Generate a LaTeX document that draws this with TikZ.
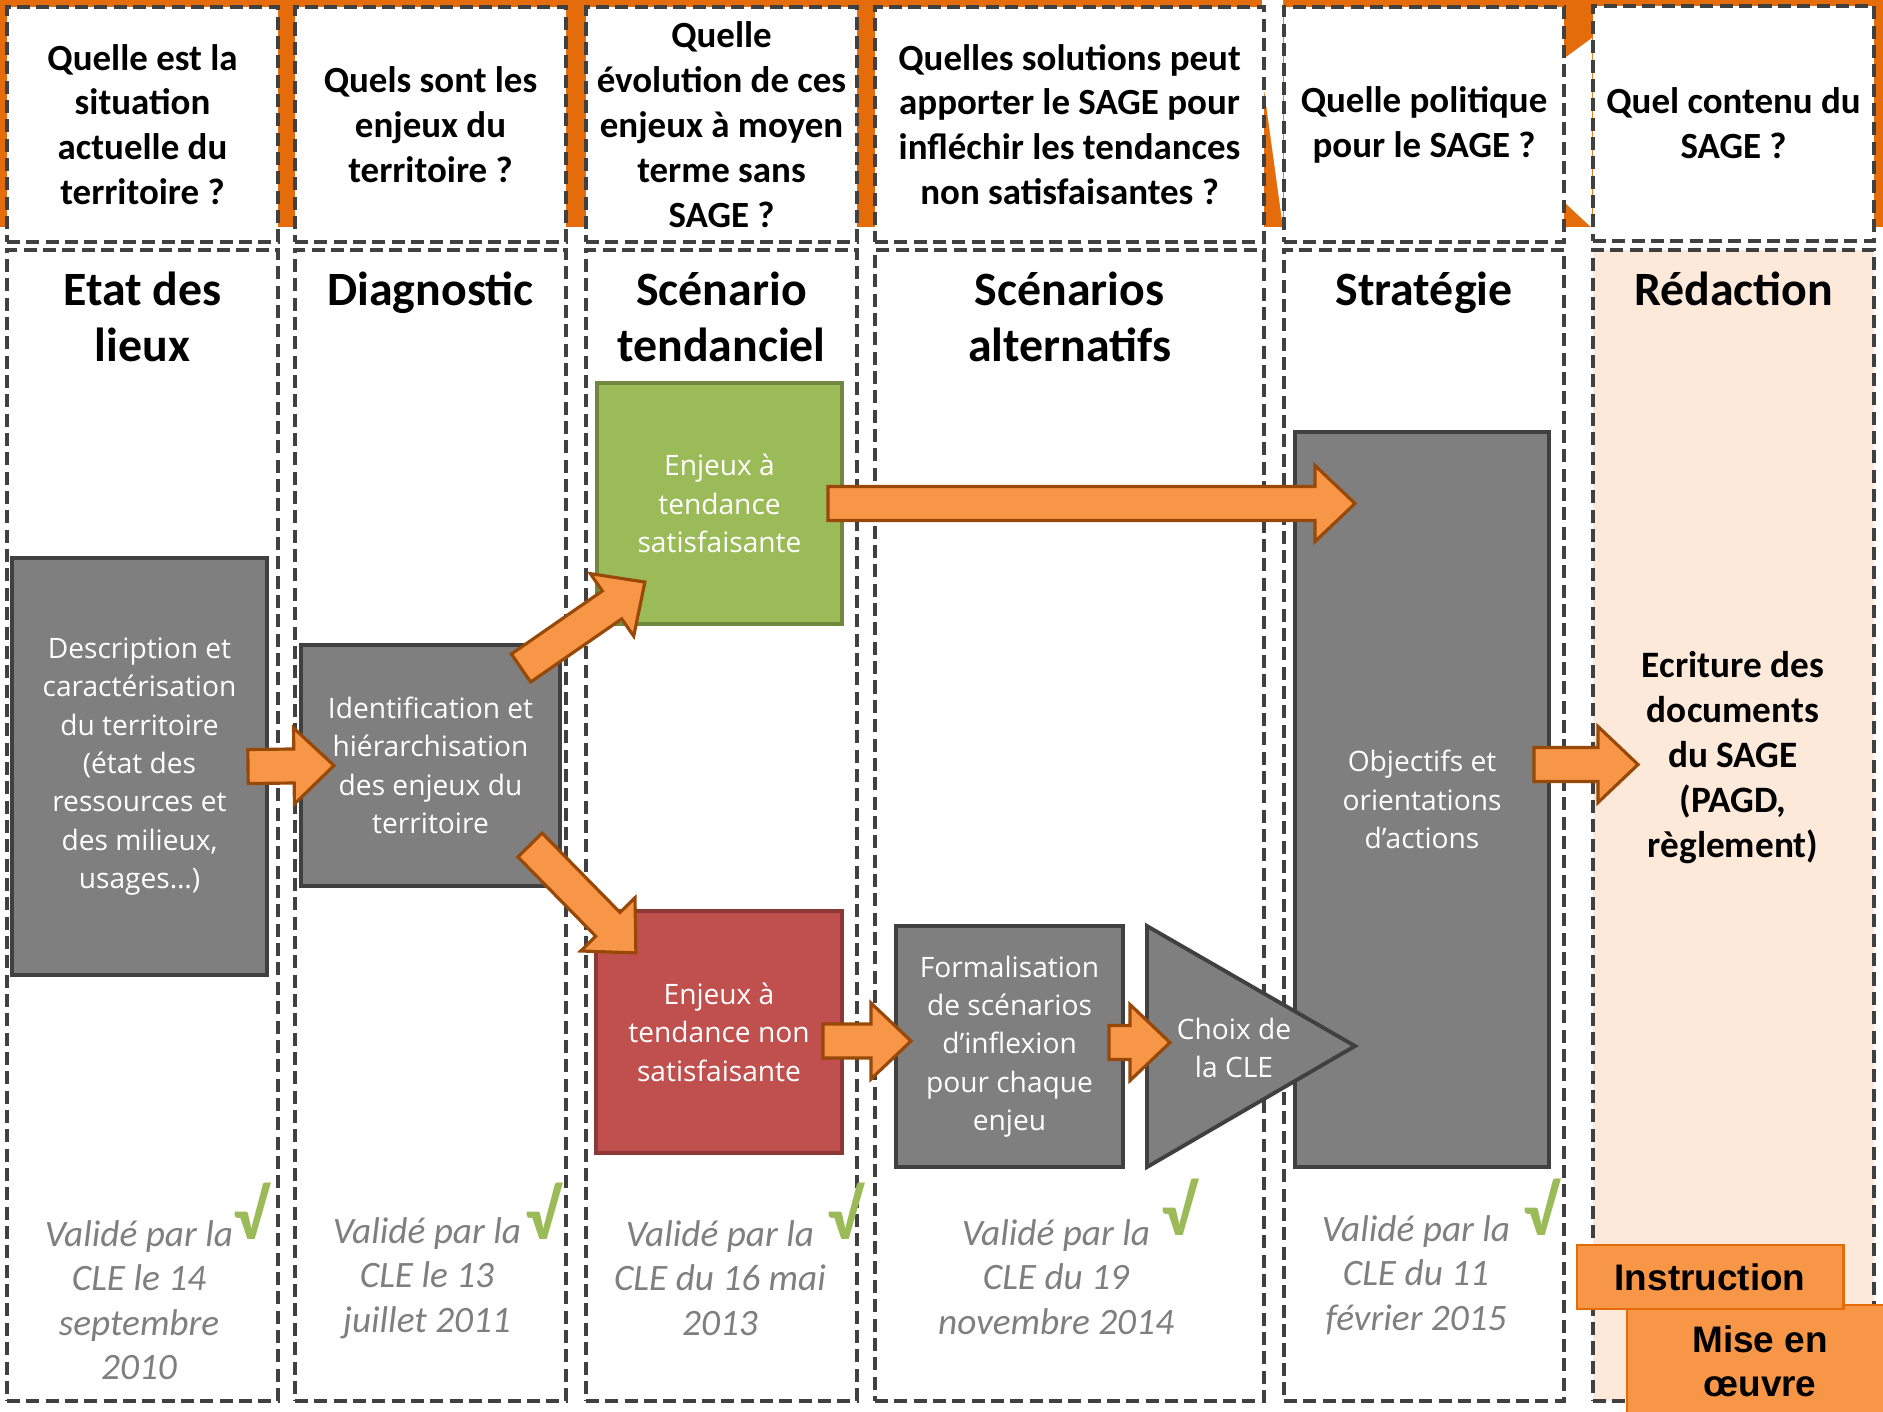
\documentclass[tikz,border=0pt]{standalone}
\usepackage{fontspec}
\setmainfont{Carlito}
\newfontfamily\boxfont{Open Sans}
\newfontfamily\arialfont{Liberation Sans}
\usetikzlibrary{positioning,calc}

\definecolor{dashgray}{HTML}{404040}
\definecolor{boxgray}{HTML}{7F7F7F}
\definecolor{bandorange}{HTML}{E46C0A}
\definecolor{arrorange}{HTML}{F79646}
\definecolor{arrbrown}{HTML}{984807}
\definecolor{okgreen}{HTML}{9BBB59}
\definecolor{okgreendark}{HTML}{71893F}
\definecolor{badred}{HTML}{C0504D}
\definecolor{badreddark}{HTML}{8C3836}
\definecolor{peach}{HTML}{FDE9D9}
\definecolor{phaseline}{HTML}{E36C09}

\newcommand\qfont{\fontsize{10.5}{12.75}\selectfont\bfseries}
\newcommand\titlefont{\fontsize{13.6}{16}\selectfont\bfseries}
\newcommand\graytext{\boxfont\fontsize{8}{10.9}\selectfont}
\newcommand\validfont{\fontsize{10.6}{12.6}\selectfont\itshape}

% fleche epaisse d'un point a un autre
\newcommand\fatarrow[2]{%
  \draw[fat arrow] let \p1=(#1), \p2=(#2),
      \n1={atan2(\y2-\y1,\x2-\x1)}, \n2={veclen(\x2-\x1,\y2-\y1)} in
    [shift={(\p1)},rotate=\n1]
    (0cm,-0.17cm) -- ({\n2-0.4cm},-0.17cm) -- ({\n2-0.4cm},-0.38cm)
    -- ({\n2+0cm},0cm) -- ({\n2-0.4cm},0.38cm) -- ({\n2-0.4cm},0.17cm)
    -- (0cm,0.17cm) -- cycle;}

\begin{document}
\begin{tikzpicture}[x=0.01cm,y=-0.01cm,
  dashbox/.style={draw=dashgray,line width=1.1pt,dash pattern=on 3.7pt off 1.8pt,
    inner sep=0pt,anchor=north west},
  question/.style={dashbox,fill=white,minimum height=2.35cm,align=center,font=\qfont},
  column/.style={dashbox,minimum height=11.5cm},
  title/.style={anchor=north,align=center,font=\titlefont,inner sep=0pt},
  gray box/.style={draw=dashgray,line width=1.1pt,fill=boxgray,text=white,
    align=center,font=\graytext,inner sep=0pt},
  valid/.style={align=center,font=\validfont,text=boxgray,inner sep=0pt},
  check/.style={font=\fontsize{20}{20}\selectfont\bfseries,text=okgreen,inner sep=0pt},
  phase/.style={fill=arrorange,draw=phaseline,line width=0.8pt,align=center,
    font=\arialfont\bfseries\fontsize{10.5}{12.6}\selectfont,inner sep=0pt},
  fat arrow/.style={fill=arrorange,draw=arrbrown,line width=0.9pt}]

  \useasboundingbox (0,0) rectangle (1883,1411);

  % bandeau orange
  \fill[bandorange] (0,0) rectangle (1883,227);
  \fill[white] (1262,-1) -- (1283,-1) -- (1283,228) -- (1262,75) -- cycle;
  \fill[white] (1562,60) -- (1592,38) -- (1592,228) -- (1562,200) -- cycle;

  \node[question,minimum width=2.71cm] (q1) at (5,5) {Quelle est la\\situation\\actuelle du\\territoire ?};
  \node[question,minimum width=2.71cm] (q2) at (293,5) {Quels sont les\\enjeux du\\territoire ?};
  \node[question,minimum width=2.71cm] (q3) at (584,5) {Quelle\\évolution de ces\\enjeux à moyen\\terme sans\\SAGE ?};
  \node[question,minimum width=3.89cm] (q4) at (873,5) {Quelles solutions peut\\apporter le SAGE pour\\infléchir les tendances\\non satisfaisantes ?};
  \node[question,minimum width=2.80cm] (q5) at (1282,5) {Quelle politique\\pour le SAGE ?};
  \node[question,minimum width=2.81cm] (q6) at (1591,4) {Quel contenu du\\SAGE ?};

  \node[column,minimum width=2.71cm] (c1) at (5,248) {};
  \node[column,minimum width=2.71cm] (c2) at (293,248) {};
  \node[column,minimum width=2.71cm] (c3) at (584,248) {};
  \node[column,minimum width=3.89cm] (c4) at (873,248) {};
  \node[column,minimum width=2.80cm] (c5) at (1282,248) {};
  \node[column,fill=peach,minimum width=2.81cm] (c6) at (1591,248) {};

  \node[title] (t1) at ($(c1.north)+(0,23)$) {Etat des\\lieux};
  \node[title] (t2) at ($(c2.north)+(0,23)$) {Diagnostic};
  \node[title] (t3) at ($(c3.north)+(0,23)$) {Scénario\\tendanciel};
  \node[title] (t4) at ($(c4.north)+(0,23)$) {Scénarios\\alternatifs};
  \node[title] (t5) at ($(c5.north)+(0,23)$) {Stratégie};
  \node[title] (t6) at ($(c6.north)+(0,23)$) {Rédaction};

  \node[gray box,minimum width=2.55cm,minimum height=4.17cm] (desc) at (139.5,766.5)
    {Description et\\caractérisation\\du territoire\\(état des\\ressources et\\des milieux,\\usages…)};
  \node[gray box,minimum width=2.59cm,minimum height=2.41cm] (ident) at (430.5,765.5)
    {Identification et\\hiérarchisation\\des enjeux du\\territoire};
  \node[gray box,fill=okgreen,draw=okgreendark,minimum width=2.45cm,minimum height=2.41cm] (green) at (719.5,503.5)
    {Enjeux à\\tendance\\satisfaisante};
  \node[gray box,fill=badred,draw=badreddark,minimum width=2.46cm,minimum height=2.42cm] (red) at (719,1032)
    {Enjeux à\\tendance non\\satisfaisante};
  \node[gray box,minimum width=2.27cm,minimum height=2.41cm] (formal) at (1009.5,1046.5)
    {Formalisation\\de scénarios\\d’inflexion\\pour chaque\\enjeu};
  \node[gray box,minimum width=2.54cm,minimum height=7.35cm] (obj) at (1422,799.5)
    {Objectifs et\\orientations\\d’actions};

  \coordinate (tri1) at (1147,926);
  \coordinate (tri2) at (1147,1167);
  \coordinate (tri3) at (1355,1046);
  \draw[draw=dashgray,line width=1.1pt,fill=boxgray,line join=miter] (tri1) -- (tri3) -- (tri2) -- cycle;
  \node[align=center,font=\graytext,text=white,inner sep=0pt] (choix) at (1234,1048) {Choix de\\la CLE};

  \fatarrow{$(desc.east)+(-21,0)$}{$(ident.west)+(35,0)$}
  \fatarrow{$(ident.north east)+(-41,25)$}{$(green.south west)+(50,-44)$}
  \fatarrow{$(ident.south east)+(-32,-43)$}{$(red.north west)+(42,44)$}
  \fatarrow{$(green.east)+(-16,0)$}{$(green.east -| obj.west)+(62,0)$}
  \fatarrow{$(red.east)+(-21,9)$}{$(red.east -| formal.west)+(17,9)$}
  \fatarrow{$(formal.east)+(-16,-4)$}{$(tri1 |- formal.east)+(23,-4)$}
  \fatarrow{$(obj.east)+(-17,-35)$}{$(obj.east)+(87,-35)$}

  \node[align=center,font=\fontsize{10.6}{12.8}\selectfont\bfseries,inner sep=0pt] (ecrit) at (1733,758)
    {Ecriture des\\documents\\du SAGE\\(PAGD,\\règlement)};

  \node[valid] (v1) at (139,1300) {Validé par la\\CLE le 14\\septembre\\2010};
  \node[valid] (v2) at (427,1278) {Validé par la\\CLE le 13\\juillet 2011};
  \node[valid] (v3) at (720,1278) {Validé par la\\CLE du 16 mai\\2013};
  \node[valid] (v4) at (1056,1277) {Validé par la\\CLE du 19\\novembre 2014};
  \node[valid] (v5) at (1416,1275) {Validé par la\\CLE du 11\\février 2015};

  \node[check] (k1) at (251,1211) {√};
  \node[check] (k2) at (543,1211) {√};
  \node[check] (k3) at (845,1211) {√};
  \node[check] (k4) at (1179,1207) {√};
  \node[check] (k5) at (1541,1207) {√};

  \node[phase,minimum width=2.66cm,minimum height=1.12cm] (mise) at (1760,1361) {Mise en\\œuvre};
  \node[phase,minimum width=2.66cm,minimum height=0.64cm] (instr) at (1710,1277) {Instruction};
\end{tikzpicture}
\end{document}
